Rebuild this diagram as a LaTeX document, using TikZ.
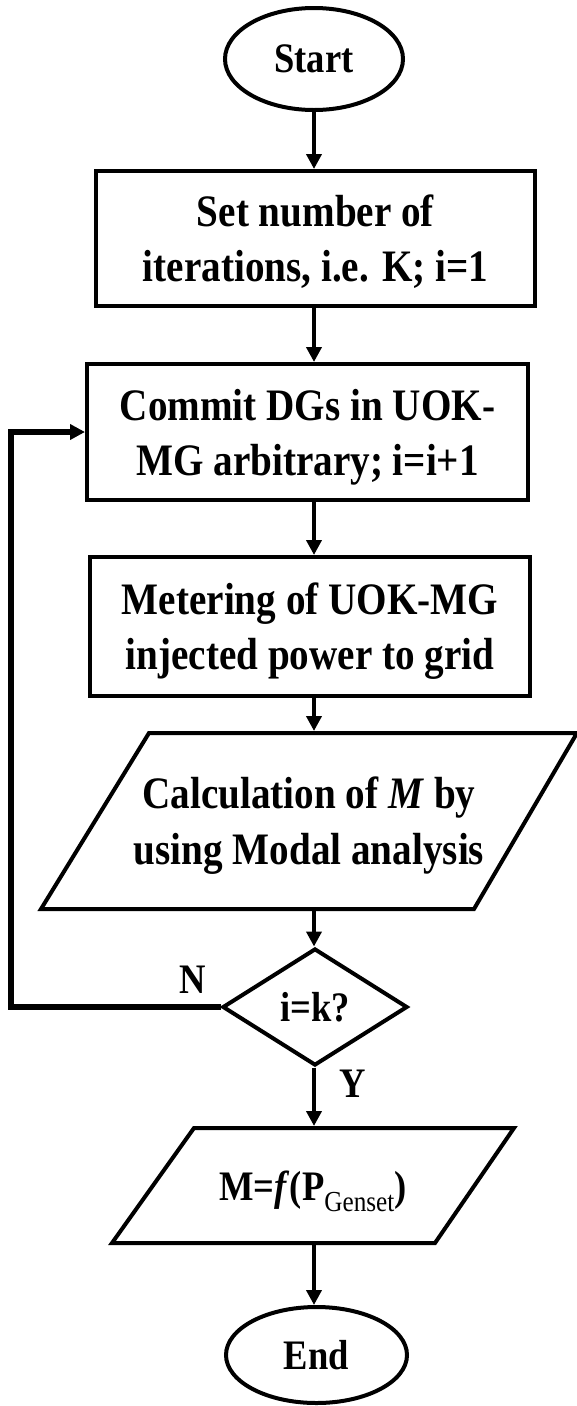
\documentclass[tikz,border=0pt]{standalone}
\usepackage{fontspec}
\setmainfont{Liberation Serif}[FakeStretch=0.87]
\usetikzlibrary{shapes.geometric,arrows.meta}
\begin{document}
\begin{tikzpicture}[x=1pt,y=-1pt,
  box/.style={draw, rectangle, line width=4pt, align=center, inner sep=0pt,
    font=\fontsize{45}{55}\selectfont\bfseries, text depth=0pt},
  term/.style={draw, ellipse, line width=4pt, inner sep=0pt,
    font=\fontsize{42}{50}\selectfont\bfseries},
  paratext/.style={rectangle, align=center, inner sep=0pt, outer sep=0pt, text depth=0pt},
  decis/.style={draw, diamond, line width=4pt, inner sep=0pt,
    font=\fontsize{42}{50}\selectfont\bfseries},
  lbl/.style={inner sep=0pt, font=\fontsize{42}{50}\selectfont\bfseries},
  outline/.style={line width=4pt, line join=miter},
  arr/.style={line width=4pt, -{Triangle[length=15pt,width=15pt]}},
  looparr/.style={line width=5.5pt, -{Triangle[length=15pt,width=15pt]}}
]
\useasboundingbox (0,0) rectangle (577,1406);

\node[term, minimum width=178pt, minimum height=102pt] (start) at (314,59) {Start};
\node[box, minimum width=439pt, minimum height=135pt] (b1) at (315.5,238.5)
  {Set number of\\iterations, i.e. K; i=1};
\node[box, minimum width=441pt, minimum height=136pt] (b2) at (307.5,432)
  {Commit DGs in UOK-\\MG arbitrary; i=i+1};
\node[box, minimum width=440pt, minimum height=139pt] (b3) at (310,626.5)
  {Metering of UOK-MG\\injected power to grid};
\node[paratext, font=\fontsize{45}{56}\selectfont\bfseries,
  minimum width=536pt, minimum height=176pt] (calc) at (309,821)
  {Calculation of \textit{M} by\\using Modal analysis};
\node[decis, minimum width=185pt, minimum height=117pt] (dec) at (315,1007) {i=k?};
\node[paratext, font=\fontsize{42}{50}\selectfont\bfseries,
  minimum width=402pt, minimum height=115pt] (res) at (313,1185.5)
  {M=\textit{f}(P\raisebox{-11pt}{\fontsize{29}{30}\selectfont\mdseries Genset})};
\node[term, minimum width=181pt, minimum height=96pt] (end) at (316.5,1355) {End};

\node[lbl, anchor=base] (nlab) at (193,993) {N};
\node[lbl, anchor=base] (ylab) at (353,1097) {Y};

% parallelogram outlines
\draw[outline] ([xshift=108pt]calc.north west) -- (calc.north east)
  -- ([xshift=-103pt]calc.south east) -- (calc.south west) -- cycle;
\draw[outline] ([xshift=82pt]res.north west) -- (res.north east)
  -- ([xshift=-79pt]res.south east) -- (res.south west) -- cycle;

% connectors
\draw[arr] (start.south) -- (start.south |- b1.north);
\draw[arr] (b1.south -| start.south) -- (b2.north -| start.south);
\draw[arr] (b2.south -| start.south) -- (b3.north -| start.south);
\draw[arr, shorten >=2pt] (b3.south -| start.south) -- (calc.north -| start.south);
\draw[arr] (calc.south -| start.south) -- (dec.north -| start.south);
\draw[arr, shorten >=2pt] (dec.south -| start.south) -- (res.north -| start.south);
\draw[arr] (res.south -| start.south) -- (end.north -| start.south);
\coordinate (lp) at (11,1007);
\draw[looparr] (dec.west) -- (lp) |- (b2.west);
\end{tikzpicture}
\end{document}
